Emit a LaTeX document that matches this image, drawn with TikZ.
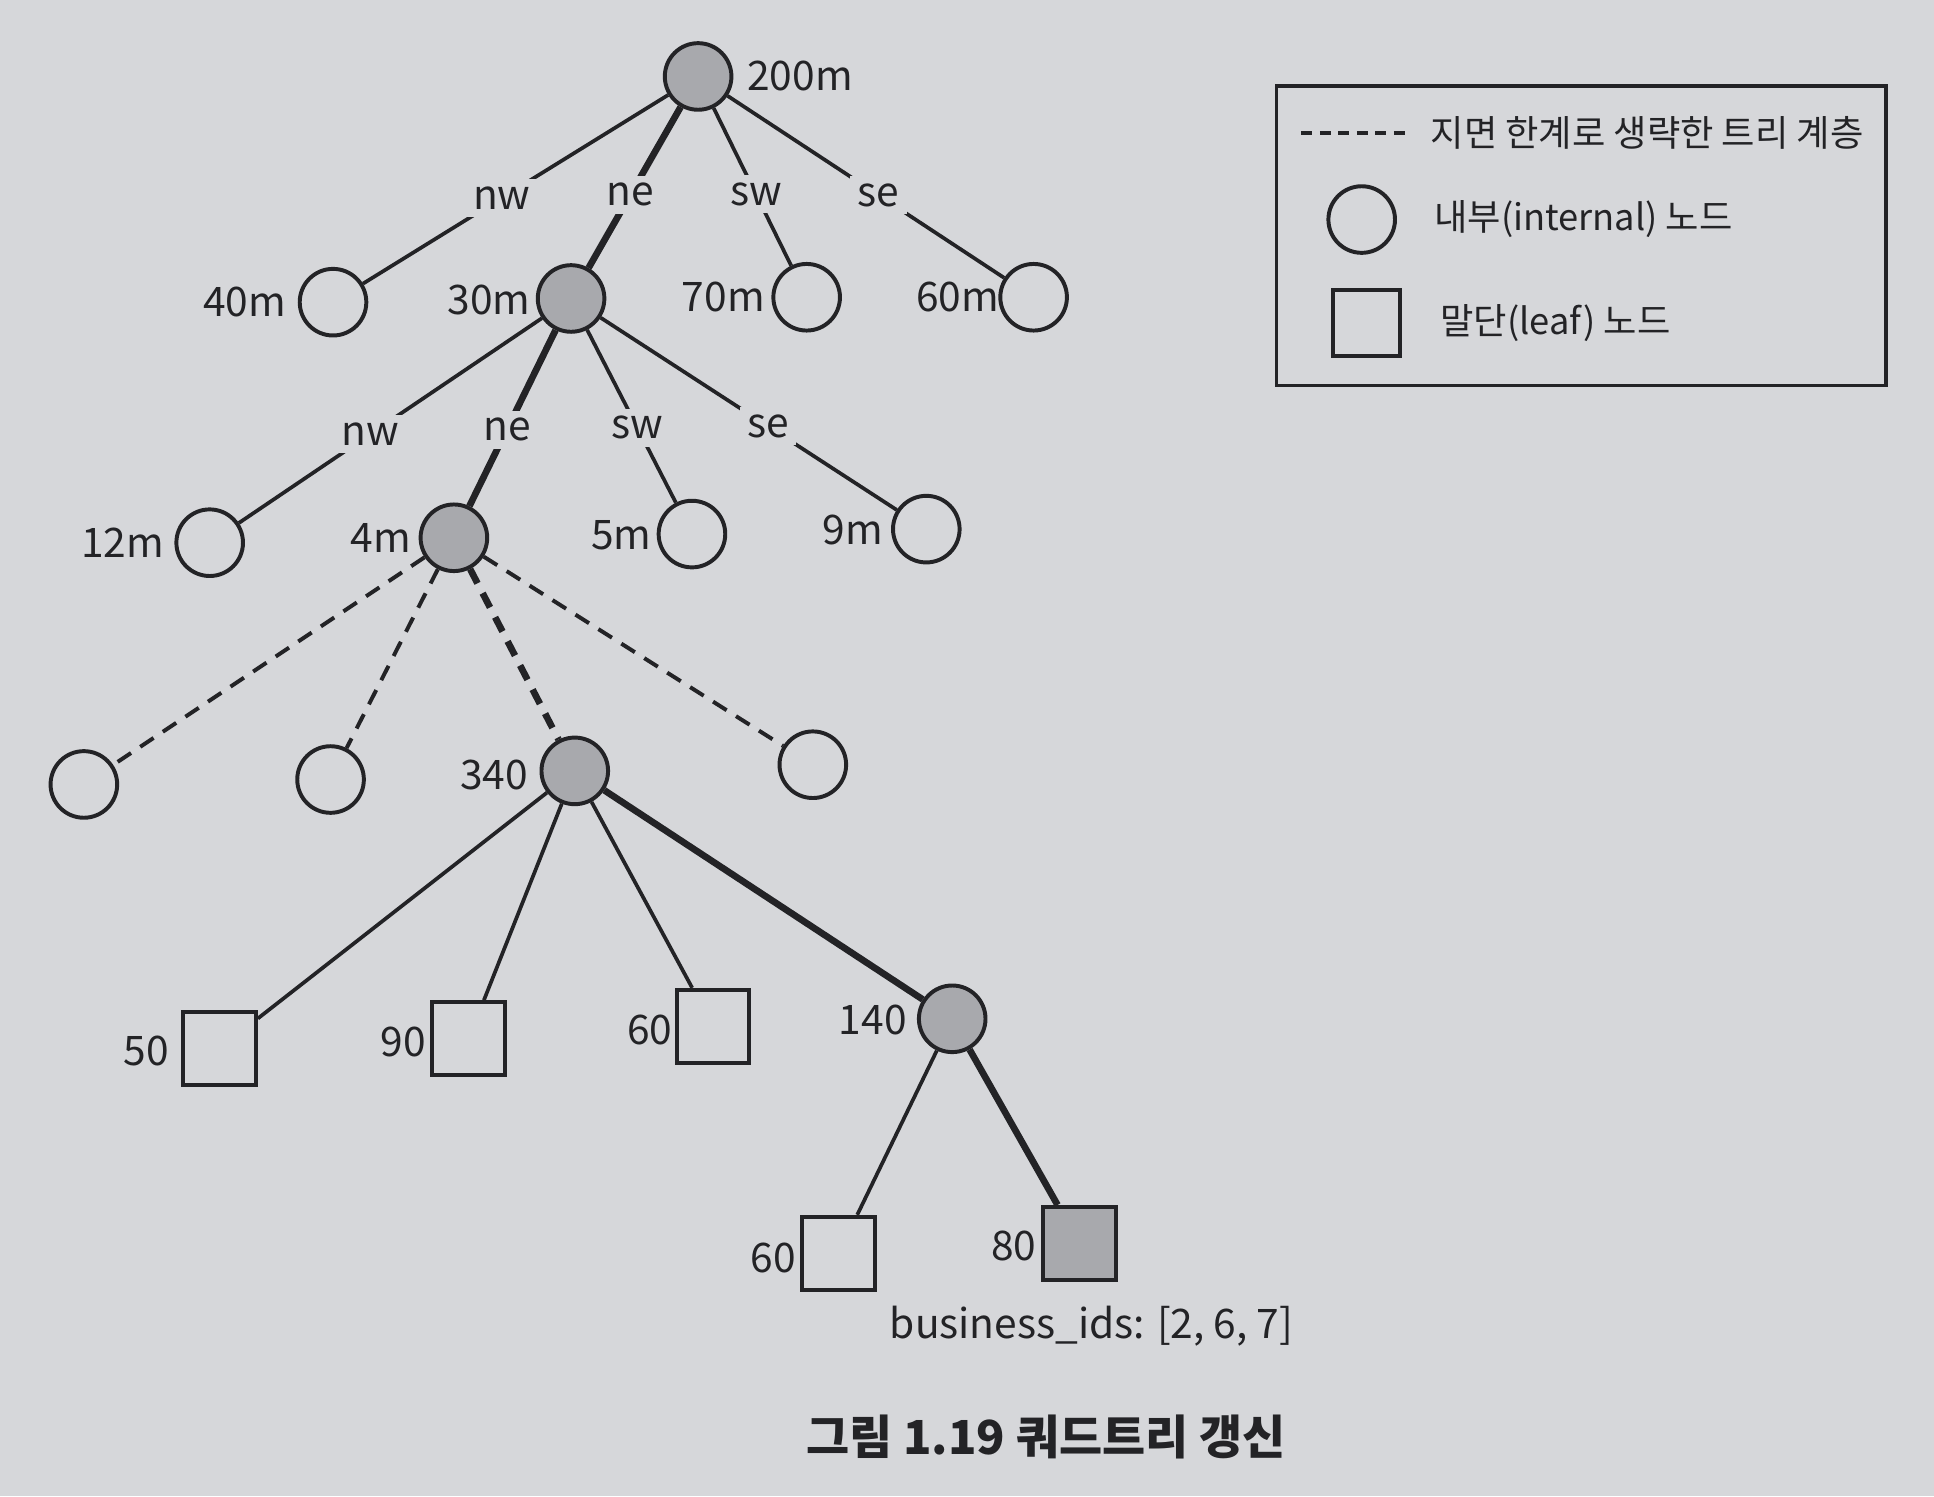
\documentclass[tikz,border=0pt]{standalone}
\usepackage{fontspec}
\setmainfont{Noto Sans CJK KR}
\usepackage{tikz}
\definecolor{paper}{RGB}{214,215,218}
\definecolor{nodegray}{RGB}{168,169,173}
\definecolor{ink}{RGB}{35,35,38}
\tikzset{
  inode/.style={circle, draw=ink, line width=1.6pt, minimum size=27pt, inner sep=0pt},
  leaf/.style={rectangle, draw=ink, line width=1.6pt, minimum size=29.5pt, inner sep=0pt},
  hit/.style={fill=nodegray},
  edge/.style={draw=ink, line width=1.5pt},
  hot/.style={line width=2.7pt},
  skip/.style={dash pattern=on 6.5pt off 4.5pt, line width=1.6pt},
  txt/.style={inner sep=0.75pt, text=ink, font=\fontsize{16.5}{19}\selectfont},
  elab/.style={txt, fill=paper, inner sep=3pt},
  key/.style={txt, font=\fontsize{14.7}{17}\selectfont},
}
\begin{document}
\begin{tikzpicture}[x=0.5pt,y=0.5pt,yscale=-1,xscale=1]
%set diagram size
\path[use as bounding box, fill=paper] (0,0) rectangle (1568,1213);
%Shape: Circle (level 0-2)
\node[inode, hit] (root) at (566,62) {};
\node[inode] (n40) at (270,245) {};
\node[inode, hit] (n30) at (463,242) {};
\node[inode] (n70) at (654,241) {};
\node[inode] (n60) at (838,241) {};
\node[inode] (n12) at (170,440) {};
\node[inode, hit] (n4) at (368,436) {};
\node[inode] (n5) at (561,433) {};
\node[inode] (n9) at (751,429) {};
%Shape: Circle (level 3)
\node[inode] (d1) at (68,636) {};
\node[inode] (d2) at (268,632) {};
\node[inode, hit] (n340) at (466,625) {};
\node[inode] (d4) at (659,620) {};
\node[inode, hit] (n140) at (772,826) {};
%Shape: Rectangle (leaves)
\node[leaf] (l50) at (178,850) {};
\node[leaf] (l90) at (380,842) {};
\node[leaf] (l60) at (578,832) {};
\node[leaf] (l60b) at (680,1016) {};
\node[leaf, hit] (l80) at (875,1008) {};
%Straight Lines
\draw[edge] (root) -- node[elab, pos=0.545] (e1) {nw} (n40);
\draw[edge, hot] (root) -- node[elab, pos=0.545] (e2) {ne} (n30);
\draw[edge] (root) -- node[elab, pos=0.545] (e3) {sw} (n70);
\draw[edge] (root) -- node[elab, pos=0.545] (e4) {se} (n60);
\draw[edge] (n30) -- node[elab, pos=0.565] (e5) {nw} (n12);
\draw[edge, hot] (n30) -- node[elab, pos=0.565] (e6) {ne} (n4);
\draw[edge] (n30) -- node[elab, pos=0.565] (e7) {sw} (n5);
\draw[edge] (n30) -- node[elab, pos=0.565] (e8) {se} (n9);
%Dashed Lines
\draw[edge, skip] (n4) -- (d1);
\draw[edge, skip] (n4) -- (d2);
\draw[edge, skip, hot] (n4) -- (n340);
\draw[edge, skip] (n4) -- (d4);
%Straight Lines
\draw[edge] (n340) -- (l50);
\draw[edge] (n340) -- (l90);
\draw[edge] (n340) -- (l60);
\draw[edge, hot] (n340) -- (n140);
\draw[edge] (n140) -- (l60b);
\draw[edge, hot] (n140) -- (l80);
% Text Node
\node[txt, anchor=west] (t200) at (604,62) {200m};
\node[txt, anchor=east] (t40) at (234,245) {40m};
\node[txt, anchor=east] (t30) at (432,243) {30m};
\node[txt, anchor=east] (t70) at (622,241) {70m};
\node[txt, anchor=east] (t60m) at (812,241) {60m};
\node[txt, anchor=east] (t12) at (135,440) {12m};
\node[txt, anchor=east] (t4) at (335,436) {4m};
\node[txt, anchor=east] (t5) at (530,434) {5m};
\node[txt, anchor=east] (t9) at (718,430) {9m};
\node[txt, anchor=east] (t340) at (430,628) {340};
\node[txt, anchor=east] (t50) at (139,852) {50};
\node[txt, anchor=east] (t90) at (347,845) {90};
\node[txt, anchor=east] (t60) at (547,835) {60};
\node[txt, anchor=east] (t140) at (737,827) {140};
\node[txt, anchor=east] (t60b) at (647,1020) {60};
\node[txt, anchor=east] (t80) at (842,1010) {80};
% Text Node
\node[txt] (ids) at (885,1075) {business\_ids: [2, 6, 7]};
\node[txt, font=\fontsize{19}{22}\selectfont\bfseries] (cap) at (848,1165) {그림 1.19 쿼드트리 갱신};
%Shape: Rectangle (legend)
\node[draw=ink, line width=1.5pt, minimum width=247pt, minimum height=121.5pt, inner sep=0pt] (legend) at (1282,191) {};
\coordinate (ka) at (1055,108);
\coordinate (kb) at (1145,108);
\draw[edge, line width=1.4pt, dash pattern=on 4.5pt off 3pt] (ka) -- (kb);
\node[key, anchor=west] (k1) at (1158,108) {지면 한계로 생략한 트리 계층};
\node[inode] (kc) at (1104,178) {};
\node[key, anchor=west] (k2) at (1161,178) {내부(internal) 노드};
\node[leaf, minimum size=27pt] (ks) at (1108,262) {};
\node[key, anchor=west] (k3) at (1166,262) {말단(leaf) 노드};
\end{tikzpicture}
\end{document}
